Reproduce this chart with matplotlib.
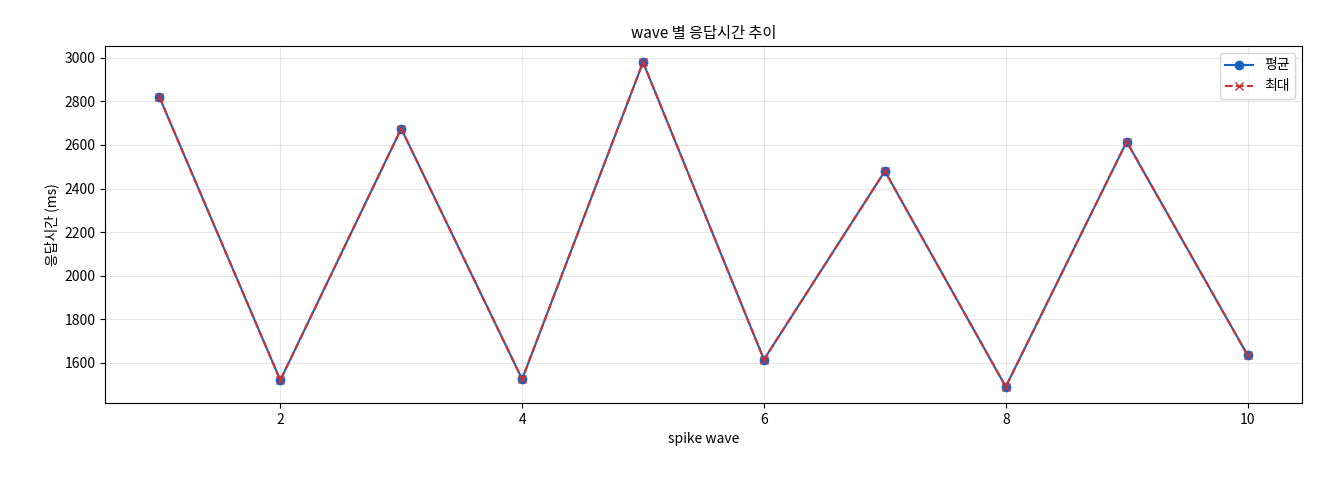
import matplotlib
matplotlib.use("Agg")
import matplotlib.pyplot as plt

plt.rcParams['font.family'] = ['Noto Sans CJK KR', 'DejaVu Sans']

waves = [1, 2, 3, 4, 5, 6, 7, 8, 9, 10]
avg_ms = [2820, 1520, 2675, 1525, 2980, 1615, 2480, 1490, 2615, 1635]
max_ms = [2820, 1520, 2675, 1525, 2980, 1615, 2480, 1490, 2615, 1635]

fig = plt.figure(figsize=(13.2, 4.8), dpi=100)
ax = fig.add_axes([105/1320, 1-403/480, (1302-105)/1320, (403-46)/480])
ax.plot(waves, avg_ms, '-o', color='#1565C0', label='평균', markersize=6, linewidth=1.5)
ax.plot(waves, max_ms, '--x', color='#D32F2F', label='최대', markersize=6, linewidth=1.5)
ax.set_title('wave 별 응답시간 추이', fontsize=11)
ax.set_xlabel('spike wave', fontsize=10)
ax.set_ylabel('응답시간 (ms)', fontsize=10)
ax.grid(True, alpha=0.3)
ax.legend(loc='upper right', fontsize=10)
ax.tick_params(labelsize=10)
fig.savefig('out.png', dpi=100)
